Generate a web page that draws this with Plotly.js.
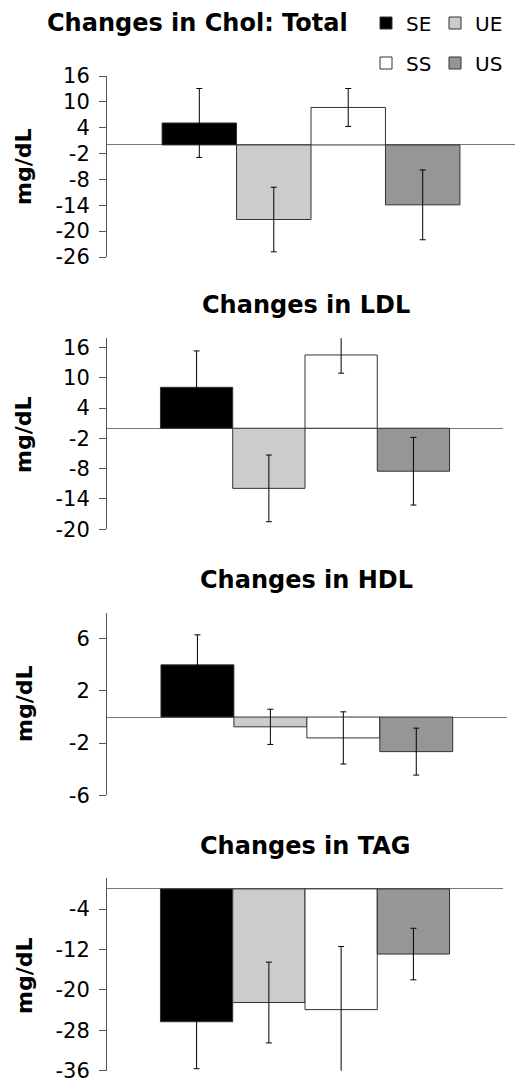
<!DOCTYPE html>
<html>
<head>
<meta charset="utf-8">
<script src="https://cdn.plot.ly/plotly-3.0.1.min.js"></script>
<style>
  html, body { margin: 0; padding: 0; background: #fff; }
  #chart { width: 515px; height: 1083px; }
</style>
</head>
<body>
<div id="chart"></div>
<script>
// ---- data ----
const groups = ['SE', 'UE', 'SS', 'US'];
const panelTitles = ['Changes in Chol: Total', 'Changes in LDL', 'Changes in HDL', 'Changes in TAG'];
const yTitle = 'mg/dL';

const cholValues = [5.1, -17.3, 8.7, -13.9];
const cholErrors = [8.0, 7.5, 4.4, 8.1];
const ldlValues = [8.1, -11.9, 14.5, -8.5];
const ldlErrors = [7.2, 6.6, 3.6, 6.7];
const hdlValues = [4.0, -0.75, -1.6, -2.65];
const hdlErrors = [2.3, 1.35, 2.0, 1.8];
const tagValues = [-26.3, -22.5, -23.9, -12.9];
const tagErrors = [9.3, 8.0, 12.5, 5.1];

const cholTicks = [16, 10, 4, -2, -8, -14, -20, -26];
const ldlTicks = [16, 10, 4, -2, -8, -14, -20];
const hdlTicks = [6, 2, -2, -6];
const tagTicks = [-4, -12, -20, -28, -36];

// ---- styling / layout ----
const W = 515, H = 1083;
const colors = ['#000000', '#cccccc', '#ffffff', '#969696'];
const legendOf = ['legend', 'legend', 'legend2', 'legend2'];

const panels = [
  { v: cholValues, e: cholErrors, ticks: cholTicks, range: [-26, 16],   px: [107, 515],   py: [76, 257] },
  { v: ldlValues,  e: ldlErrors,  ticks: ldlTicks,  range: [-20, 17.8], px: [107, 503],   py: [338.3, 529.3] },
  { v: hdlValues,  e: hdlErrors,  ticks: hdlTicks,  range: [-6, 8],     px: [107, 506.7], py: [612.7, 795.3] },
  { v: tagValues,  e: tagErrors,  ticks: tagTicks,  range: [-36, 2.1],  px: [107, 503],   py: [878.3, 1070.7] }
];
const titlePos = [[197, 23], [306, 305], [306, 580], [305, 846]];
const yTitleY = [167, 435, 704, 976];

const font = 'DejaVu Sans, Arial, sans-serif';
const traces = [];
const layout = {
  width: W, height: H,
  margin: { l: 0, r: 0, t: 0, b: 0 },
  paper_bgcolor: '#fff', plot_bgcolor: '#fff',
  barmode: 'group', bargap: 0.27, bargroupgap: 0,
  font: { family: font, color: '#000', size: 20 },
  annotations: [],
  legend: {
    orientation: 'h', x: 366 / W, y: 1 - 23 / H, xanchor: 'left', yanchor: 'middle',
    font: { family: font, size: 20, color: '#000' }, entrywidth: 24, bgcolor: 'rgba(0,0,0,0)'
  },
  legend2: {
    orientation: 'h', x: 366 / W, y: 1 - 63 / H, xanchor: 'left', yanchor: 'middle',
    font: { family: font, size: 20, color: '#000' }, entrywidth: 24, bgcolor: 'rgba(0,0,0,0)'
  }
};

panels.forEach((p, i) => {
  const n = i === 0 ? '' : String(i + 1);
  groups.forEach((g, j) => {
    traces.push({
      type: 'bar', name: g, x: [0], y: [p.v[j]],
      xaxis: 'x' + n, yaxis: 'y' + n,
      marker: { color: colors[j], line: { color: '#333', width: 1 } },
      error_y: { type: 'data', array: [p.e[j]], visible: true, color: '#000', thickness: 1, width: 3 },
      showlegend: i === 0, legend: legendOf[j], legendgroup: g, hoverinfo: 'skip'
    });
  });
  layout['xaxis' + n] = {
    domain: [p.px[0] / W, p.px[1] / W], range: [-0.5, 0.5], anchor: 'y' + n,
    visible: false, fixedrange: true
  };
  layout['yaxis' + n] = {
    domain: [1 - p.py[1] / H, 1 - p.py[0] / H], range: p.range, anchor: 'x' + n,
    showgrid: false, zeroline: true, zerolinecolor: '#777', zerolinewidth: 1,
    showline: true, linecolor: '#555', linewidth: 1,
    ticks: 'outside', ticklen: 7, tickcolor: '#555', ticklabelstandoff: 5,
    ticklabeloverflow: 'allow',
    tickvals: p.ticks, ticktext: p.ticks.map(t => String(t)),
    tickfont: { family: font, size: 21, color: '#000' },
    fixedrange: true
  };
  layout.annotations.push({
    text: panelTitles[i], xref: 'paper', yref: 'paper',
    x: titlePos[i][0] / W, y: 1 - titlePos[i][1] / H, xanchor: 'center', yanchor: 'middle',
    showarrow: false, font: { family: font, size: 24, color: '#000', weight: 'bold' }
  });
  layout.annotations.push({
    text: yTitle, xref: 'paper', yref: 'paper', textangle: -90,
    x: 24 / W, y: 1 - yTitleY[i] / H, xanchor: 'center', yanchor: 'middle',
    showarrow: false, font: { family: font, size: 22, color: '#000', weight: 'bold' }
  });
});

Plotly.newPlot('chart', traces, layout, { displayModeBar: false, staticPlot: true });
</script>
</body>
</html>
